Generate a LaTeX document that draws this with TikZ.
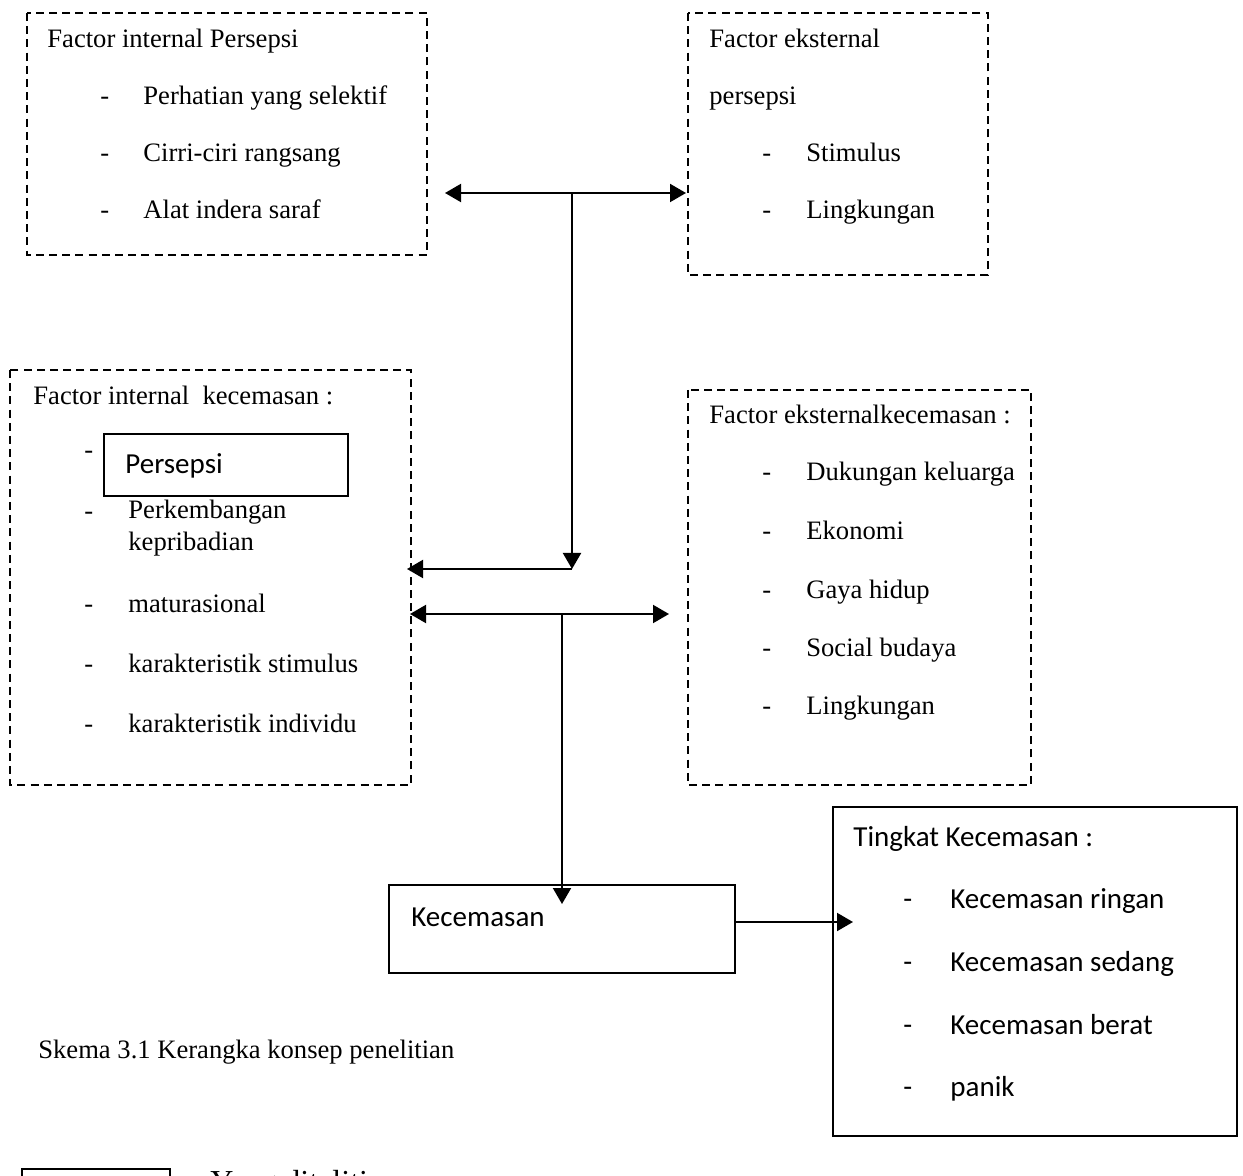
\documentclass[tikz,border=0pt]{standalone}
\usepackage{fontspec}
\setmainfont{Liberation Serif}
\newfontfamily\calib{Carlito}
\usetikzlibrary{arrows.meta}
\tikzset{
  dbox/.style={draw, line width=1pt, dash pattern=on 4pt off 2.6pt},
  sbox/.style={draw, line width=1.1pt},
  txt/.style={anchor=base west, inner sep=0pt, font=\fontsize{13.3}{16}\selectfont},
  stxt/.style={anchor=base west, inner sep=0pt, font=\calib\fontsize{14.5}{17}\selectfont},
  conn/.style={line width=1pt, -{Triangle[length=8pt,width=9pt]}},
  dconn/.style={line width=1pt, {Triangle[length=8pt,width=9pt]}-{Triangle[length=8pt,width=9pt]}},
  plain/.style={line width=1pt}
}
\begin{document}
\begin{tikzpicture}[x=0.5pt,y=-0.5pt]
\useasboundingbox (0,0) rectangle (1243,1176);
\fill[white] (0,0) rectangle (1243,1176);
% box 1
\draw[dbox] (27,13) rectangle (427,255);
\node[txt] (b1t) at (47,48) {Factor internal Persepsi};
\foreach \y/\t [count=\i] in {105/Perhatian yang selektif,162/Cirri-ciri rangsang,219/Alat indera saraf}{
  \node[txt] (b1d\i) at (100,\y) {-};
  \node[txt] (b1i\i) at (143,\y) {\t};
}
% box 2
\draw[dbox] (688,13) rectangle (988,275);
\node[txt] (b2t) at (709,48) {Factor eksternal};
\node[txt] (b2t2) at (709,105) {persepsi};
\foreach \y/\t [count=\i] in {162/Stimulus,219/Lingkungan}{
  \node[txt] (b2d\i) at (762,\y) {-};
  \node[txt] (b2i\i) at (806,\y) {\t};
}
% box 3
\draw[dbox] (10,370) rectangle (411,785);
\node[txt] (b3t) at (33,405) {Factor internal\ \ kecemasan :};
\node[sbox, minimum width=122pt, minimum height=31pt, inner sep=0pt] (pers) at (226,465) {};
\node[stxt] (perst) at (125,474) {Persepsi};
\node[txt] (b3d0) at (84,459) {-};
\node[txt] (b3d1) at (84,520) {-};
\node[txt] (b3i1a) at (128,519) {Perkembangan};
\node[txt] (b3i1b) at (128,551) {kepribadian};
\foreach \y/\t [count=\i from 2] in {612/maturasional,672/karakteristik stimulus,732/karakteristik individu}{
  \node[txt] (b3d\i) at (84,\y) {-};
  \node[txt] (b3i\i) at (128,\y) {\t};
}
% box 4
\draw[dbox] (688,390) rectangle (1031,785);
\node[txt] (b4t) at (709,424) {Factor eksternalkecemasan :};
\foreach \y/\t [count=\i] in {481/Dukungan keluarga,539/Ekonomi,598/Gaya hidup,656/Social budaya,714/Lingkungan}{
  \node[txt] (b4d\i) at (762,\y) {-};
  \node[txt] (b4i\i) at (806,\y) {\t};
}
% Kecemasan box
\node[sbox, minimum width=173pt, minimum height=44pt, inner sep=0pt] (kec) at (562,929) {};
\node[stxt] (kect) at (411,926) {Kecemasan};
% Tingkat box
\node[sbox, minimum width=202pt, minimum height=164.5pt, inner sep=0pt] (ting) at (1035,971.5) {};
\node[stxt] (tingt) at (853,846) {Tingkat Kecemasan :};
\foreach \y/\t [count=\i] in {908/Kecemasan ringan,971/Kecemasan sedang,1034/Kecemasan berat,1096/panik}{
  \node[stxt] (td\i) at (903,\y) {-};
  \node[stxt] (ti\i) at (950,\y) {\t};
}
% caption
\node[txt] (cap) at (38,1058) {Skema 3.1 Kerangka konsep penelitian};
% legend (cut off at the page edge, as in the reference)
\draw[sbox] (22,1169) rectangle (170,1230);
\node[anchor=base west, inner sep=0pt, font=\fontsize{16}{19}\selectfont] (leg) at (210,1192) {Yang diteliti};
% connectors
\coordinate (a1l) at (445,193);
\coordinate (a1r) at (686,193);
\coordinate (a1m) at (572,193);
\coordinate (a1b) at (572,569);
\coordinate (a1e) at (407,569);
\draw[dconn] (a1l) -- (a1r);
\draw[conn] (a1m) -- (a1b);
\draw[conn] (a1b) -- (a1e);
\coordinate (a2l) at (410,614);
\coordinate (a2r) at (669,614);
\coordinate (a2m) at (562,614);
\coordinate (a2b) at (562,904);
\draw[dconn] (a2l) -- (a2r);
\draw[conn] (a2m) -- (a2b);
\coordinate (a3e) at (853,922);
\draw[conn] (kec.east |- a3e) -- (a3e);
\end{tikzpicture}
\end{document}
